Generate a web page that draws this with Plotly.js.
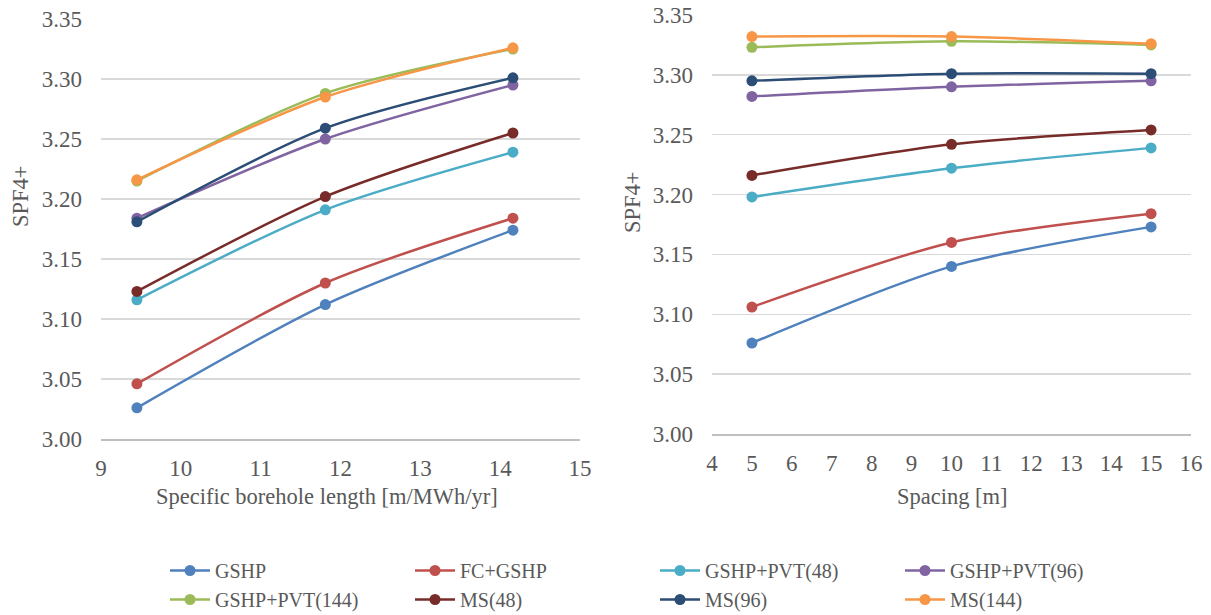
<!DOCTYPE html>
<html>
<head>
<meta charset="utf-8">
<script src="https://cdn.plot.ly/plotly-3.0.1.min.js"></script>
<style>html,body{margin:0;padding:0;background:#fff;}#chart{width:1211px;height:615px;}</style>
</head>
<body>
<div id="chart"></div>
<script>
// Series names and colours
const seriesNames = ["GSHP", "FC+GSHP", "GSHP+PVT(48)", "GSHP+PVT(96)", "GSHP+PVT(144)", "MS(48)", "MS(96)", "MS(144)"];
const seriesColors = ["#4F81BD", "#C0504D", "#4BACC6", "#8064A2", "#9BBB59", "#772C2A", "#2C4D75", "#F79646"];

// Left chart: specific borehole length [m/MWh/yr]
const boreholeLength = [9.45, 11.81, 14.16];
const leftGSHP      = [3.026, 3.112, 3.174];
const leftFCGSHP    = [3.046, 3.130, 3.184];
const leftPVT48     = [3.116, 3.191, 3.239];
const leftPVT96     = [3.184, 3.250, 3.295];
const leftPVT144    = [3.215, 3.288, 3.325];
const leftMS48      = [3.123, 3.202, 3.255];
const leftMS96      = [3.181, 3.259, 3.301];
const leftMS144     = [3.216, 3.285, 3.326];

// Right chart: spacing [m]
const spacing = [5, 10, 15];
const rightGSHP     = [3.076, 3.140, 3.173];
const rightFCGSHP   = [3.106, 3.160, 3.184];
const rightPVT48    = [3.198, 3.222, 3.239];
const rightPVT96    = [3.282, 3.290, 3.295];
const rightPVT144   = [3.323, 3.328, 3.325];
const rightMS48     = [3.216, 3.242, 3.254];
const rightMS96     = [3.295, 3.301, 3.301];
const rightMS144    = [3.332, 3.332, 3.326];

const leftSeries  = [leftGSHP, leftFCGSHP, leftPVT48, leftPVT96, leftPVT144, leftMS48, leftMS96, leftMS144];
const rightSeries = [rightGSHP, rightFCGSHP, rightPVT48, rightPVT96, rightPVT144, rightMS48, rightMS96, rightMS144];

const leftXTitle = "Specific borehole length [m/MWh/yr]";
const rightXTitle = "Spacing [m]";
const yTitle = "SPF4+";

const FONT = "Liberation Serif, serif";
const TXT = "#595959";

const traces = [];
seriesNames.forEach((name, i) => {
  traces.push({
    x: boreholeLength, y: leftSeries[i], name: name,
    type: "scatter", mode: "lines+markers",
    line: {color: seriesColors[i], width: 2.5, shape: "spline", smoothing: 0.8},
    marker: {color: seriesColors[i], size: 11},
    xaxis: "x", yaxis: "y", showlegend: true
  });
});
seriesNames.forEach((name, i) => {
  traces.push({
    x: spacing, y: rightSeries[i], name: name,
    type: "scatter", mode: "lines+markers",
    line: {color: seriesColors[i], width: 2.5, shape: "spline", smoothing: 0.8},
    marker: {color: seriesColors[i], size: 11},
    xaxis: "x2", yaxis: "y2", showlegend: false
  });
});

const yTicks = [3.00, 3.05, 3.10, 3.15, 3.20, 3.25, 3.30, 3.35];
const yTickText = yTicks.map(v => v.toFixed(2));

function yAxis(domain, anchor) {
  return {
    domain: domain, anchor: anchor, range: [3.0, 3.35],
    tickvals: yTicks, ticktext: yTickText,
    showgrid: true, gridcolor: "#D9D9D9", gridwidth: 1.3,
    zeroline: false, showline: false, ticks: "",
    ticklabelstandoff: 18,
    tickfont: {family: FONT, size: 23, color: TXT}
  };
}
function xAxis(domain, anchor, range) {
  return {
    domain: domain, anchor: anchor, range: range, dtick: 1, tick0: 0,
    showgrid: false, zeroline: false,
    showline: true, linecolor: "#BFBFBF", linewidth: 2,
    ticks: "", ticklabelstandoff: 7,
    tickfont: {family: FONT, size: 23, color: TXT}
  };
}

function pxAnn(text, px, py, angle) {
  return {
    text: text, xref: "paper", yref: "paper", x: px / 1211, y: 1 - py / 615,
    xanchor: "center", yanchor: "middle", showarrow: false, textangle: angle || 0,
    font: {family: FONT, size: 22.5, color: TXT}
  };
}

const layout = {
  width: 1211, height: 615,
  margin: {l: 0, r: 0, t: 0, b: 0, autoexpand: false},
  paper_bgcolor: "#FFFFFF", plot_bgcolor: "#FFFFFF",
  showlegend: true,
  xaxis: xAxis([101/1211, 580/1211], "y", [9, 15]),
  yaxis: yAxis([1 - 439/615, 1 - 19/615], "x"),
  xaxis2: xAxis([712/1211, 1191/1211], "y2", [4, 16]),
  yaxis2: yAxis([1 - 434/615, 1 - 15/615], "x2"),
  annotations: [
    pxAnn(leftXTitle, 327, 496),
    pxAnn(rightXTitle, 952, 496),
    pxAnn(yTitle, 20, 197, -90),
    pxAnn(yTitle, 632, 203, -90)
  ],
  legend: {
    orientation: "h", x: 165/1211, xanchor: "left", y: 1 - 551/615, yanchor: "top",
    entrywidth: 190, entrywidthmode: "pixels", traceorder: "normal",
    font: {family: FONT, size: 20, color: TXT}, itemwidth: 40
  }
};

Plotly.newPlot("chart", traces, layout, {displayModeBar: false, staticPlot: true});
</script>
</body>
</html>
